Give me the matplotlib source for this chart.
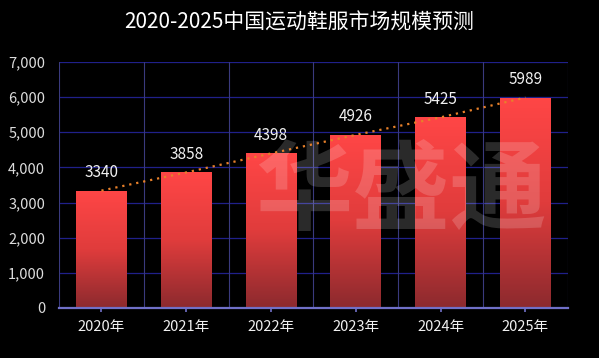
import numpy as np
import matplotlib.pyplot as plt
from matplotlib.ticker import FuncFormatter
from matplotlib.colors import LinearSegmentedColormap

plt.rcParams['font.family'] = ['Noto Sans CJK SC', 'DejaVu Sans']

years = ['2020年', '2021年', '2022年', '2023年', '2024年', '2025年']
values = [3340, 3858, 4398, 4926, 5425, 5989]
title = '2020-2025中国运动鞋服市场规模预测'

fig = plt.figure(figsize=(5.99, 3.58), dpi=100, facecolor='black')
ax = fig.add_axes([0.0985, 0.1397, 0.8495, 0.6871])
ax.set_facecolor('black')

x = np.arange(len(years))

# grid
for yv in range(1000, 7001, 1000):
    ax.axhline(yv, color='#20208a', lw=0.9, zorder=0)
for b in np.arange(-0.5, len(years), 1.0):
    ax.axvline(b, color='#3a3a7e', lw=0.8, zorder=0)

# gradient bars
bars = ax.bar(x, values, width=0.6, color='none', zorder=2)
grad = np.linspace(0, 1, 256).reshape(-1, 1)
cmap = LinearSegmentedColormap.from_list('g', ['#ff4646', '#e03c3c', '#8c2a2e'])
for bar in bars:
    x0, y0 = bar.get_x(), bar.get_y()
    w, h = bar.get_width(), bar.get_height()
    im = ax.imshow(grad, extent=[x0, x0 + w, y0, y0 + h], cmap=cmap,
                   aspect='auto', origin='upper', zorder=2)
    im.set_clip_path(bar)
ax.set_xlim(-0.5, len(years) - 0.5)
ax.set_ylim(0, 7000)
ax.set_yticks(range(0, 7001, 1000))
ax.yaxis.set_major_formatter(FuncFormatter(lambda v, p: f'{int(v):,}'))

# trend line
ax.plot(x, values, linestyle=(0, (1, 2.2)), color='#e8802a', lw=1.6, zorder=4)

for xi, v in zip(x, values):
    ax.text(xi, v + 280, str(v), ha='center', va='bottom', color='#f0f0f0',
            fontsize=11, zorder=5)

# watermark (behind labels)
ax.text(0.67, 0.46, '华盛通', transform=fig.transFigure, ha='center', va='center',
        fontsize=70, fontweight='bold', color='white', alpha=0.17,
        style='italic', zorder=3)

ax.set_xticks(x)
ax.set_xticklabels(years)
ax.tick_params(axis='x', colors='#7070c8', length=3, width=1.2,
               labelcolor='#f0f0f0', labelsize=10.5, pad=6)
ax.tick_params(axis='y', length=0, labelcolor='#dcdcdc', labelsize=10.5, pad=10)

for s in ['top', 'right', 'left']:
    ax.spines[s].set_visible(False)
ax.spines['bottom'].set_color('#7070c8')
ax.spines['bottom'].set_linewidth(1.6)

fig.text(0.5, 0.937, title, ha='center', va='center', color='white', fontsize=15)

fig.savefig('out.png', dpi=100, facecolor='black')
